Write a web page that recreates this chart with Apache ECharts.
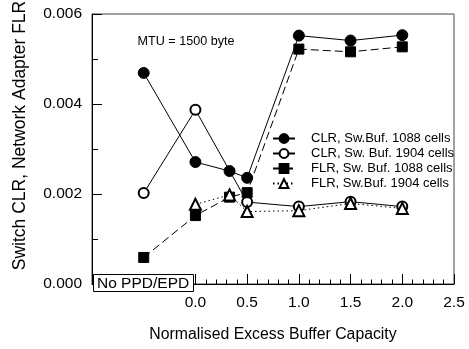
<!DOCTYPE html>
<html>
<head>
<meta charset="utf-8">
<script src="https://cdn.jsdelivr.net/npm/echarts@6/dist/echarts.min.js"></script>
<style>
  html, body { margin: 0; padding: 0; background: #fff; }
  #chart { width: 469px; height: 349px; }
</style>
</head>
<body>
<div id="chart"></div>
<script>
// normalised excess buffer capacity (-0.5 = no PPD/EPD)
const bufferCapacity = [-0.5, 0.0, 0.33, 0.5, 1.0, 1.5, 2.0];
const clrBuf1088 = [0.00469, 0.00271, 0.00251, 0.00236, 0.00552, 0.00541, 0.00553];
const clrBuf1904 = [0.00202, 0.00387, null, 0.00182, 0.00172, 0.00183, 0.00172];
const flrBuf1088 = [0.00059, 0.00152, 0.00193, 0.00203, 0.00522, 0.00516, 0.00527];
const flrBuf1904 = [null, 0.00177, 0.00198, 0.00161, 0.00163, 0.00179, 0.00168];
const seriesNames = [
  "CLR, Sw.Buf. 1088 cells",
  "CLR, Sw. Buf. 1904 cells",
  "FLR, Sw. Buf. 1088 cells",
  "FLR, Sw.Buf. 1904 cells",
];

const font = "Liberation Sans, Arial, sans-serif";
const pairs = (values) => bufferCapacity.map((x, i) => [x, values[i]]);

function lineSeries(name, values, symbol, symbolSize, lineType) {
  return {
    name,
    type: "line",
    data: pairs(values),
    connectNulls: true,
    symbol,
    symbolSize,
    showAllSymbol: true,
    lineStyle: { color: "#000", width: 1, type: lineType },
    itemStyle: { color: "#000", borderColor: "#000", borderWidth: 1 },
    emphasis: { disabled: true },
  };
}

const chart = echarts.init(document.getElementById("chart"), null, { renderer: "canvas" });
chart.setOption({
  animation: false,
  textStyle: { fontFamily: font },
  grid: {
    left: 92, right: 15, top: 14, bottom: 65,
    show: true, borderColor: "#444", borderWidth: 1,
  },
  legend: {
    orient: "vertical",
    left: 272,
    top: 132,
    padding: 0,
    itemGap: 2,
    itemWidth: 22,
    itemHeight: 11,
    textStyle: { fontSize: 13, color: "#000", fontFamily: font, lineHeight: 13, padding: [0, 0, 0, 11] },
    data: seriesNames,
  },
  xAxis: {
    type: "value",
    min: -1,
    max: 2.5,
    interval: 0.5,
    axisLine: { onZero: false, lineStyle: { color: "#000", width: 1 } },
    axisTick: { inside: true, length: 10, lineStyle: { color: "#000" } },
    minorTick: { show: true, splitNumber: 5, length: 4.5, lineStyle: { color: "#000" } },
    splitLine: { show: false },
    axisLabel: {
      color: "#000", fontSize: 15.5, margin: 11, fontFamily: font,
      formatter: (v) => (v < 0 ? "" : v.toFixed(1)),
    },
    name: "Normalised Excess Buffer Capacity",
    nameLocation: "middle",
    nameGap: 43,
    nameTextStyle: { color: "#000", fontSize: 15.8, fontFamily: font },
  },
  yAxis: {
    type: "value",
    min: 0,
    max: 0.006,
    interval: 0.002,
    axisLine: { show: true, onZero: false, lineStyle: { color: "#000", width: 1 } },
    axisTick: { show: true, inside: true, length: 10, lineStyle: { color: "#000" } },
    minorTick: { show: true, splitNumber: 2, length: 6, lineStyle: { color: "#000" } },
    splitLine: { show: false },
    axisLabel: {
      color: "#000", fontSize: 15.5, margin: 10, fontFamily: font,
      formatter: (v) => v.toFixed(3),
    },
  },
  graphic: [
    {
      type: "text",
      z: 100,
      x: 20,
      y: 135.5,
      rotation: Math.PI / 2,
      style: {
        text: "Switch CLR, Network Adapter FLR",
        font: "17.5px Liberation Sans, Arial, sans-serif",
        fill: "#000",
        align: "center",
        verticalAlign: "middle",
      },
    },
    {
      type: "text",
      z: 100,
      x: 137.5,
      y: 42,
      style: {
        text: "MTU = 1500 byte",
        font: "12.6px Liberation Sans, Arial, sans-serif",
        fill: "#000",
        align: "left",
        verticalAlign: "middle",
      },
    },
    {
      type: "group",
      z: 100,
      children: [
        {
          type: "rect",
          z: 100,
          shape: { x: 93.5, y: 274.5, width: 100, height: 17 },
          style: { fill: "#fff", stroke: "#000", lineWidth: 1 },
        },
        {
          type: "text",
          z: 101,
          x: 97,
          y: 283.5,
          style: {
            text: "No PPD/EPD",
            font: "15.5px Liberation Sans, Arial, sans-serif",
            fill: "#000",
            align: "left",
            verticalAlign: "middle",
          },
        },
      ],
    },
  ],
  series: [
    lineSeries(seriesNames[0], clrBuf1088, "circle", 11, "solid"),
    lineSeries(seriesNames[1], clrBuf1904, "emptyCircle", 10, "solid"),
    lineSeries(seriesNames[2], flrBuf1088, "rect", 10, [8, 4]),
    lineSeries(seriesNames[3], flrBuf1904, "emptyTriangle", 11, [1.5, 3]),
  ],
});
</script>
</body>
</html>
